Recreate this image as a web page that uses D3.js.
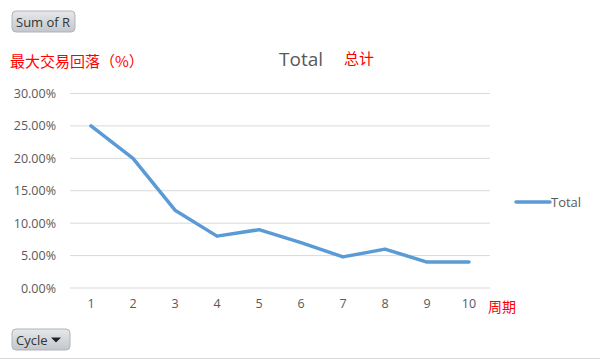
<!DOCTYPE html>
<html><head><meta charset="utf-8">
<script src="https://cdn.jsdelivr.net/npm/d3@7"></script>
<style>body{margin:0;background:#fff;}svg{display:block;}</style>
</head><body>
<script>
const categories = ["1","2","3","4","5","6","7","8","9","10"];
const totalValues = [0.25, 0.20, 0.12, 0.08, 0.09, 0.07, 0.048, 0.06, 0.04, 0.04];
const yTicks = [0, 0.05, 0.10, 0.15, 0.20, 0.25, 0.30];

const W = 600, H = 361;
const svg = d3.select("body").append("svg").attr("width", W).attr("height", H);
const defs = svg.append("defs");
const g1 = defs.append("linearGradient").attr("id","btn").attr("x1",0).attr("y1",0).attr("x2",0).attr("y2",1);
g1.append("stop").attr("offset","0%").attr("stop-color","#e6e8ea");
g1.append("stop").attr("offset","100%").attr("stop-color","#c3c7cb");

const x = d3.scaleBand().domain(categories).range([70, 490]);
const y = d3.scaleLinear().domain([0, 0.30]).range([288, 93.5]);

// gridlines
svg.append("g").selectAll("line").data(yTicks).join("line")
  .attr("x1", 70).attr("x2", 490)
  .attr("y1", d => y(d)).attr("y2", d => y(d))
  .attr("stroke", "#d9d9d9").attr("stroke-width", 1);

// y axis labels
const yAxis = d3.axisLeft(y).tickValues(yTicks).tickFormat(d3.format(".2%")).tickSize(0).tickPadding(0);
const ya = svg.append("g").attr("transform","translate(56,0)").call(yAxis);
ya.select(".domain").remove();
ya.selectAll("text").attr("fill","#595959").style("font-family","'Open Sans', 'DejaVu Sans', sans-serif").style("font-size","12.5px");

// x axis labels
const xAxis = d3.axisBottom(x).tickSize(0).tickPadding(0);
const xa = svg.append("g").attr("transform","translate(0,299)").call(xAxis);
xa.select(".domain").remove();
xa.selectAll("text").attr("fill","#595959").style("font-family","'Open Sans', 'DejaVu Sans', sans-serif").style("font-size","12.5px");

// line
const line = d3.line().x((d,i) => x(categories[i]) + x.bandwidth()/2).y(d => y(d));
svg.append("path").datum(totalValues).attr("d", line)
  .attr("fill","none").attr("stroke","#5b9bd5").attr("stroke-width",3.5)
  .attr("stroke-linejoin","round").attr("stroke-linecap","round");

// title
svg.append("text").attr("x", 301).attr("y", 66).attr("text-anchor","middle")
  .attr("fill","#595959").style("font-family","'Open Sans', 'DejaVu Sans', sans-serif").style("font-size","19px").text("Total");
svg.append("text").attr("x", 344).attr("y", 64)
  .attr("fill","#ff0000").style("font-family","'Noto Sans CJK SC', sans-serif").style("font-size","15px").text("总计");
svg.append("text").attr("x", 10).attr("y", 67)
  .attr("fill","#ff0000").style("font-family","'Noto Sans CJK SC', sans-serif").style("font-size","15px").text("最大交易回落（%）");

// legend
svg.append("line").attr("x1",516).attr("x2",550).attr("y1",202).attr("y2",202)
  .attr("stroke","#5b9bd5").attr("stroke-width",3.5).attr("stroke-linecap","round");
svg.append("text").attr("x",551).attr("y",207).attr("fill","#595959")
  .style("font-family","'Open Sans', 'DejaVu Sans', sans-serif").style("font-size","13px").text("Total");

// buttons
function button(bx, by, bw, bh, label, arrow) {
  svg.append("rect").attr("x",bx).attr("y",by).attr("width",bw).attr("height",bh).attr("rx",4)
    .attr("fill","url(#btn)").attr("stroke","#b0b5ba");
  svg.append("text").attr("x",bx+4).attr("y",by+bh/2+5).attr("fill","#333")
    .style("font-family","'Open Sans', 'DejaVu Sans', sans-serif").style("font-size","13px").text(label);
  if (arrow) {
    const ax = bx + bw - 14, ay = by + bh/2 - 2;
    svg.append("path").attr("d",`M${ax-5},${ay} L${ax+5},${ay} L${ax},${ay+5} Z`).attr("fill","#222");
  }
}
button(12, 11, 63, 21, "Sum of R", false);
button(12, 329, 58, 21, "Cycle", true);

// bottom separator
svg.append("line").attr("x1",0).attr("x2",W).attr("y1",358.5).attr("y2",358.5).attr("stroke","#d9d9d9");

// x axis title
svg.append("text").attr("x",488).attr("y",312).attr("fill","#ff0000")
  .style("font-family","'Noto Sans CJK SC', sans-serif").style("font-size","14px").text("周期");
</script>
</body></html>
